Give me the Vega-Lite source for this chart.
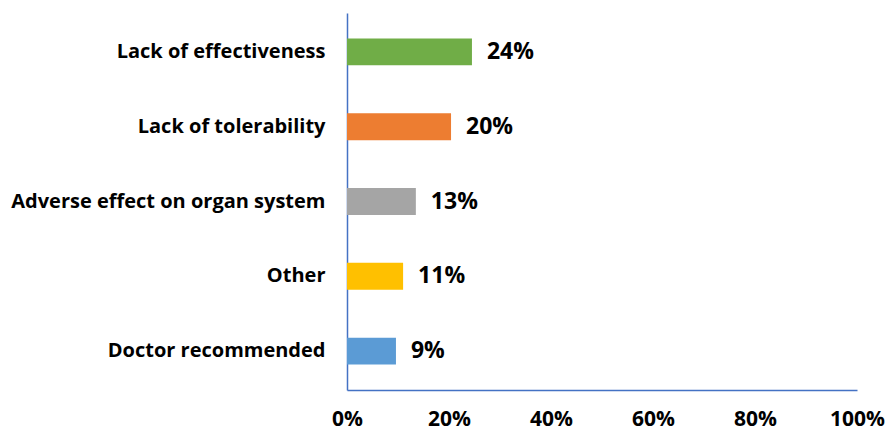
{
  "$schema": "https://vega.github.io/schema/vega-lite/v6.json",
  "width": 510,
  "height": 377,
  "autosize": {"type": "none"},
  "padding": {"left": 347, "top": 13, "right": 30, "bottom": 42},
  "background": "white",
  "config": {"view": {"stroke": null}, "font": "Open Sans"},
  "data": {
    "values": [
      {"reason": "Lack of effectiveness", "value": 0.245, "label": "24%"},
      {"reason": "Lack of tolerability", "value": 0.204, "label": "20%"},
      {"reason": "Adverse effect on organ system", "value": 0.135, "label": "13%"},
      {"reason": "Other", "value": 0.11, "label": "11%"},
      {"reason": "Doctor recommended", "value": 0.096, "label": "9%"}
    ]
  },
  "encoding": {
    "y": {
      "field": "reason",
      "type": "nominal",
      "sort": null,
      "title": null,
      "scale": {"paddingInner": 0.64, "paddingOuter": 0.34},
      "axis": {
        "ticks": false,
        "domainColor": "#4472C4",
        "domainWidth": 1.5,
        "labelFont": "Open Sans",
        "labelFontWeight": "bold",
        "labelFontSize": 20,
        "labelColor": "#000000",
        "labelPadding": 22,
        "labelLimit": 400
      }
    }
  },
  "layer": [
    {
      "mark": {"type": "bar"},
      "encoding": {
        "x": {
          "field": "value",
          "type": "quantitative",
          "title": null,
          "scale": {"domain": [0, 1], "nice": false},
          "axis": {
            "format": ".0%",
            "values": [0, 0.2, 0.4, 0.6, 0.8, 1],
            "grid": false,
            "ticks": false,
            "domainColor": "#4472C4",
            "domainWidth": 1.5,
            "labelFont": "Open Sans",
            "labelFontWeight": "bold",
            "labelFontSize": 21,
            "labelColor": "#000000",
            "labelPadding": 18,
            "labelFlush": false
          }
        },
        "color": {
          "field": "reason",
          "type": "nominal",
          "legend": null,
          "scale": {
            "domain": ["Lack of effectiveness", "Lack of tolerability", "Adverse effect on organ system", "Other", "Doctor recommended"],
            "range": ["#70AD47", "#ED7D31", "#A5A5A5", "#FFC000", "#5B9BD5"]
          }
        }
      }
    },
    {
      "mark": {"type": "text", "align": "left", "baseline": "middle", "dx": 15, "font": "Open Sans", "fontWeight": "bold", "fontSize": 23, "color": "#000000"},
      "encoding": {
        "x": {"field": "value", "type": "quantitative"},
        "text": {"field": "label"}
      }
    }
  ]
}
